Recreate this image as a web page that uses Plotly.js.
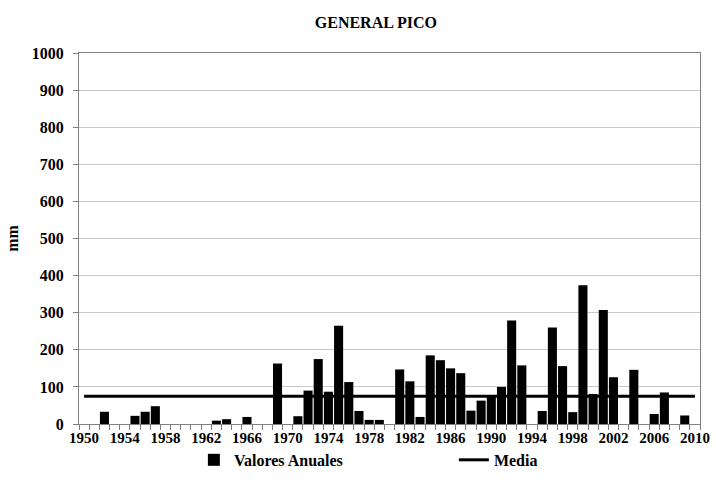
<!DOCTYPE html>
<html>
<head>
<meta charset="utf-8">
<script src="https://cdn.plot.ly/plotly-3.0.1.min.js"></script>
<style>
html,body{margin:0;padding:0;background:#fff;}
#chart{width:716px;height:496px;}
</style>
</head>
<body>
<div id="chart"></div>
<script>
const years = [];
for (let y = 1950; y <= 2010; y++) years.push(String(y));

// Annual values (mm), null = no bar
const valoresAnuales = [
  null, null, 33, null, null, 22, 33, 48, null, null,   // 1950-1959
  null, null, null, 9, 13, null, 19, null, null, 163,  // 1960-1969
  null, 21, 90, 175, 87, 265, 113, 35, 11, 11,         // 1970-1979
  null, 147, 115, 19, 185, 172, 150, 137, 36, 63,      // 1980-1989
  77, 100, 279, 158, null, 35, 260, 156, 32, 374,      // 1990-1999
  81, 307, 126, null, 146, null, 27, 85, null, 23,     // 2000-2009
  null                                                 // 2010
];
const mediaValue = 75;

const labelEvery = 4;
const xTickText = years.map((y, i) => (i % labelEvery === 0 ? '<b>' + y + '</b>' : ''));
const yTickVals = [0, 100, 200, 300, 400, 500, 600, 700, 800, 900, 1000];
const yTickText = yTickVals.map(v => '<b>' + v + '</b>');

const serif = 'Liberation Serif';

const traces = [
  {
    type: 'bar',
    name: '<b>Valores Anuales</b>',
    x: years,
    y: valoresAnuales,
    marker: { color: '#000000', line: { width: 0 } },
    hoverinfo: 'x+y'
  },
  {
    type: 'scatter',
    mode: 'lines',
    name: '<b>Media</b>',
    x: years,
    y: years.map(() => mediaValue),
    line: { color: '#000000', width: 3 }
  }
];

const layout = {
  width: 716,
  height: 496,
  margin: { l: 79, r: 16, t: 52.5, b: 72, autoexpand: false },
  paper_bgcolor: '#ffffff',
  plot_bgcolor: '#ffffff',
  bargap: 0.11,
  showlegend: true,
  title: {
    text: '<b>GENERAL PICO</b>',
    font: { family: serif, size: 16, color: '#000' },
    x: 0.525, xanchor: 'center', y: 0.955, yanchor: 'middle'
  },
  font: { family: serif, color: '#000' },
  xaxis: {
    type: 'category',
    categoryorder: 'array',
    categoryarray: years,
    tickvals: years,
    ticktext: xTickText,
    tickson: 'boundaries',
    ticks: 'outside',
    ticklen: 5,
    tickcolor: '#808080',
    tickangle: 0,
    tickfont: { family: serif, size: 15, color: '#000' },
    showline: true,
    linecolor: '#808080',
    linewidth: 1,
    mirror: true,
    showgrid: false,
    zeroline: false,
    automargin: false,
    fixedrange: true
  },
  yaxis: {
    range: [0, 1000],
    tickvals: yTickVals,
    ticktext: yTickText,
    ticks: 'outside',
    ticklen: 5,
    tickcolor: '#808080',
    ticklabelstandoff: 6,
    tickfont: { family: serif, size: 16, color: '#000' },
    showline: true,
    linecolor: '#808080',
    linewidth: 1,
    mirror: true,
    showgrid: true,
    gridcolor: '#c8c8c8',
    gridwidth: 1,
    zeroline: false,
    automargin: false,
    title: {
      text: '<b>mm</b>',
      font: { family: serif, size: 16, color: '#000' },
      standoff: 9
    },
    fixedrange: true
  },
  legend: {
    orientation: 'h',
    x: 0.185, xanchor: 'left',
    y: -0.051, yanchor: 'top',
    font: { family: serif, size: 16, color: '#000' },
    entrywidth: 215,
    entrywidthmode: 'pixels',
    traceorder: 'normal'
  }
};

Plotly.newPlot('chart', traces, layout, { displayModeBar: false, staticPlot: true });
</script>
</body>
</html>
